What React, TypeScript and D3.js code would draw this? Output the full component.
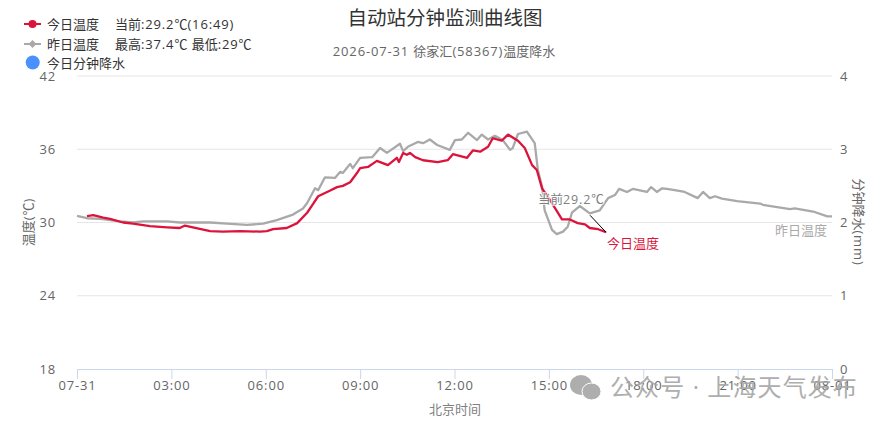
import React, { useEffect, useRef } from "react";
import * as d3 from "d3";

// minutes after midnight, temperature in degrees C
const todayMinutes = [19, 31, 50, 63, 88, 107, 139, 172, 196, 206, 221, 254, 278, 311, 349, 362, 374, 400, 420, 439, 450, 460, 482, 496, 507, 521, 534, 540, 555, 572, 593, 610, 614, 622, 629, 635, 645, 660, 688, 707, 717, 744, 755, 769, 784, 793, 810, 822, 841, 854, 868, 877, 887, 902, 925, 940, 955, 969, 978, 994, 1009];
const todayTemps = [30.53, 30.6, 30.4, 30.3, 30.0, 29.9, 29.7, 29.6, 29.55, 29.75, 29.6, 29.3, 29.25, 29.3, 29.25, 29.3, 29.45, 29.55, 29.95, 30.8, 31.5, 32.15, 32.6, 32.9, 33.0, 33.3, 34.05, 34.45, 34.55, 35.05, 34.7, 35.3, 34.95, 35.7, 35.55, 35.7, 35.35, 35.1, 34.95, 35.1, 35.6, 35.3, 35.9, 35.8, 36.2, 36.9, 36.7, 37.2, 36.7, 36.1, 34.7, 34.3, 32.8, 31.85, 30.25, 30.25, 29.95, 29.85, 29.55, 29.45, 29.2];

const yesterdayMinutes = [0, 19, 44, 82, 107, 126, 172, 196, 254, 286, 324, 355, 381, 412, 431, 439, 454, 460, 473, 492, 502, 507, 521, 526, 540, 563, 578, 591, 616, 622, 631, 650, 660, 673, 687, 711, 721, 734, 746, 763, 772, 784, 797, 812, 826, 831, 841, 858, 873, 879, 887, 892, 906, 915, 927, 936, 944, 959, 978, 997, 1013, 1026, 1034, 1049, 1060, 1087, 1095, 1106, 1116, 1125, 1140, 1159, 1184, 1194, 1207, 1217, 1230, 1259, 1303, 1308, 1360, 1369, 1404, 1431, 1440];
const yesterdayTemps = [30.55, 30.35, 30.3, 30.1, 30.0, 30.1, 30.1, 30.0, 30.0, 29.9, 29.8, 29.9, 30.2, 30.65, 31.15, 31.6, 32.8, 32.65, 33.7, 33.65, 34.15, 34.05, 34.8, 34.45, 35.3, 35.35, 36.1, 35.7, 36.45, 35.85, 36.2, 36.6, 36.5, 36.8, 36.35, 35.95, 36.75, 36.8, 37.35, 36.75, 37.2, 36.8, 37.1, 36.75, 35.95, 36.1, 37.25, 37.45, 36.5, 34.3, 32.95, 31.0, 29.4, 29.05, 29.25, 29.65, 30.8, 31.35, 30.75, 31.0, 32.0, 32.25, 32.75, 32.5, 32.75, 32.5, 32.9, 32.5, 32.8, 32.75, 32.65, 32.5, 32.0, 32.5, 32.0, 32.15, 31.95, 31.75, 31.55, 31.45, 31.1, 31.15, 30.9, 30.5, 30.5];

const xTickMinutes = [0, 180, 360, 540, 720, 900, 1080, 1260, 1440];
const xTickLabels = ["07-31", "03:00", "06:00", "09:00", "12:00", "15:00", "18:00", "21:00", "08-01"];
const tempTicks = [18, 24, 30, 36, 42];
const rainTicks = [0, 1, 2, 3, 4];

const FONT = '"Open Sans", "Noto Sans CJK SC", sans-serif';
const LATIN_SPACING = 0.85;

// CJK glyphs sit tight in the original, latin ones are spaced out
function fillRuns(el: d3.Selection<SVGTextElement, unknown, null, undefined>, s: string) {
  const runs = s.match(/[\x00-\x7f]+|[^\x00-\x7f]+/g) || [];
  runs.forEach((r) => {
    const t = el.append("tspan").text(r);
    if (/^[\x00-\x7f]/.test(r)) t.attr("letter-spacing", LATIN_SPACING);
  });
}

export default function App() {
  const svgRef = useRef<SVGSVGElement | null>(null);

  useEffect(() => {
    if (!svgRef.current) return;
    const svg = d3.select(svgRef.current);
    svg.selectAll("*").remove();
    svg.style("font-family", FONT).style("white-space", "pre");

    const x = d3.scaleLinear().domain([0, 1440]).range([77, 832]);
    const yTemp = d3.scaleLinear().domain([18, 42]).range([369, 76]);
    const yRain = d3.scaleLinear().domain([0, 4]).range([369, 76]);

    const text = (
      tx: number,
      ty: number,
      s: string,
      size: number,
      fill: string,
      anchor = "start",
    ) => {
      const el = svg
        .append("text")
        .attr("x", tx)
        .attr("y", ty)
        .attr("font-size", size)
        .attr("fill", fill)
        .attr("text-anchor", anchor) as any;
      fillRuns(el, s);
      return el;
    };

    // grid
    svg
      .append("g")
      .selectAll("line")
      .data(tempTicks.slice(1))
      .join("line")
      .attr("x1", 77)
      .attr("x2", 832)
      .attr("y1", (d) => yTemp(d))
      .attr("y2", (d) => yTemp(d))
      .attr("stroke", "#e6e6e6");

    const styleTicks = (g: any) =>
      g
        .selectAll("text")
        .attr("fill", "#666")
        .attr("font-size", 13)
        .attr("letter-spacing", LATIN_SPACING)
        .attr("font-family", FONT);

    // x axis
    const xAxis = d3
      .axisBottom(x)
      .tickValues(xTickMinutes)
      .tickSizeInner(10)
      .tickSizeOuter(0)
      .tickPadding(2)
      .tickFormat((_, i) => xTickLabels[i]);
    const gx = svg.append("g").attr("transform", "translate(0,369)").call(xAxis);
    gx.selectAll("path,line").attr("stroke", "#ccd6eb");
    styleTicks(gx);

    // left axis
    const gl = svg
      .append("g")
      .attr("transform", "translate(77,0)")
      .call(d3.axisLeft(yTemp).tickValues(tempTicks).tickSize(0).tickPadding(21));
    gl.select(".domain").remove();
    styleTicks(gl);

    // right axis
    const gr = svg
      .append("g")
      .attr("transform", "translate(832,0)")
      .call(d3.axisRight(yRain).tickValues(rainTicks).tickFormat(d3.format("d")).tickSize(0).tickPadding(8));
    gr.select(".domain").remove();
    styleTicks(gr);

    const series = (minutes: number[], temps: number[], color: string) => {
      const path = d3
        .line<number>()
        .x((m) => x(m))
        .y((_, i) => yTemp(temps[i]));
      svg
        .append("path")
        .attr("d", path(minutes))
        .attr("fill", "none")
        .attr("stroke", color)
        .attr("stroke-width", 2.3)
        .attr("stroke-linejoin", "round");
    };
    series(yesterdayMinutes, yesterdayTemps, "#a9a9a9");
    series(todayMinutes, todayTemps, "#dc143c");

    // end labels
    const lastX = x(todayMinutes[todayMinutes.length - 1]);
    const lastY = yTemp(todayTemps[todayTemps.length - 1]);
    svg
      .append("line")
      .attr("x1", lastX)
      .attr("y1", lastY)
      .attr("x2", lastX - 16)
      .attr("y2", lastY - 17)
      .attr("stroke", "#000");
    const halo = (el: any) =>
      el.attr("stroke", "#fff").attr("stroke-width", 2).attr("stroke-opacity", 0.8).attr("paint-order", "stroke");
    halo(text(607, 248, "今日温度", 13, "#dc143c"));
    halo(text(775, 235, "昨日温度", 13, "#a9a9a9"));
    halo(text(538, 204, "当前29.2℃", 12.5, "#808080"));

    // titles
    text(445, 25, "自动站分钟监测曲线图", 19.5, "#333", "middle");
    text(444, 56, "2026-07-31 徐家汇(58367)温度降水", 13, "#666", "middle");
    text(455, 414, "北京时间", 13, "#808080", "middle");
    const rotated = (t: string, s: string) => {
      const el = svg
        .append("text")
        .attr("transform", t)
        .attr("text-anchor", "middle")
        .attr("font-size", 13)
        .attr("fill", "#666") as any;
      fillRuns(el, s);
    };
    rotated("translate(33,222) rotate(-90)", "温度(℃)");
    rotated("translate(854,222) rotate(90)", "分钟降水(mm)");

    // legend
    const legendLine = (ly: number, color: string) => {
      svg.append("line").attr("x1", 24).attr("x2", 41).attr("y1", ly).attr("y2", ly).attr("stroke", color).attr("stroke-width", 2);
    };
    legendLine(24, "#dc143c");
    svg.append("circle").attr("cx", 32.5).attr("cy", 24).attr("r", 4).attr("fill", "#dc143c");
    text(47, 29, "今日温度", 13, "#333");
    text(115, 29, "当前:29.2℃(16:49)", 13, "#333");
    legendLine(44, "#a9a9a9");
    svg
      .append("path")
      .attr("d", d3.symbol(d3.symbolSquare, 32)())
      .attr("transform", "translate(32.5,44) rotate(45)")
      .attr("fill", "#a9a9a9");
    text(47, 49, "昨日温度", 13, "#333");
    text(115, 49, "最高:37.4℃ 最低:29℃", 13, "#333");
    svg.append("circle").attr("cx", 32.7).attr("cy", 62.5).attr("r", 7).attr("fill", "#4a90ff");
    text(47, 68, "今日分钟降水", 13, "#333");

    // watermark
    const mark = svg.append("g").attr("fill", "#a8a8a8").attr("opacity", 0.92);
    mark.append("ellipse").attr("cx", 581).attr("cy", 385).attr("rx", 11).attr("ry", 10);
    mark.append("ellipse").attr("cx", 591.5).attr("cy", 391.5).attr("rx", 9.5).attr("ry", 8.5).attr("stroke", "#fff");
    mark
      .append("text")
      .attr("x", 610)
      .attr("y", 396)
      .attr("font-size", 24)
      .attr("letter-spacing", 1.1)
      .text("公众号 · 上海天气发布");
  }, []);

  return (
    <svg
      ref={svgRef}
      width={885}
      height={422}
      style={{ position: "absolute", left: 0, top: 0, background: "#fff" }}
    />
  );
}
